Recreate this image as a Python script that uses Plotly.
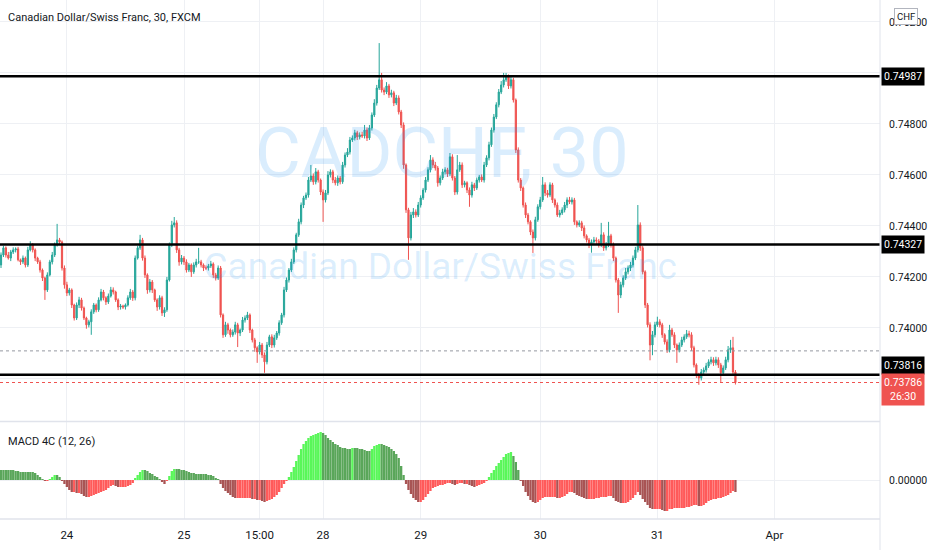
import plotly.graph_objects as go

# ---------------- data ----------------
first_open = 0.74247
closes = [
    0.74286, 0.74314, 0.74286, 0.74274, 0.74298, 0.74306, 0.74310, 0.74267, 0.74259, 0.74274,
    0.74247, 0.74306, 0.74325, 0.74306, 0.74274, 0.74259, 0.74227, 0.74196, 0.74149, 0.74208,
    0.74259, 0.74286, 0.74325, 0.74345, 0.74337, 0.74235, 0.74169, 0.74137, 0.74149, 0.74090,
    0.74039, 0.74090, 0.74110, 0.74078, 0.74039, 0.74012, 0.74024, 0.74063, 0.74090, 0.74071,
    0.74110, 0.74141, 0.74118, 0.74102, 0.74125, 0.74149, 0.74141, 0.74110, 0.74082, 0.74086,
    0.74082, 0.74090, 0.74118, 0.74141, 0.74118, 0.74274, 0.74314, 0.74345, 0.74274, 0.74208,
    0.74149, 0.74180, 0.74149, 0.74110, 0.74082, 0.74118, 0.74059, 0.74071, 0.74188, 0.74325,
    0.74404, 0.74412, 0.74306, 0.74259, 0.74274, 0.74259, 0.74227, 0.74247, 0.74220, 0.74247,
    0.74259, 0.74259, 0.74247, 0.74235, 0.74235, 0.74243, 0.74251, 0.74208, 0.74196, 0.74235,
    0.74051, 0.73973, 0.74012, 0.73992, 0.73973, 0.73984, 0.74012, 0.73980, 0.73992, 0.74031,
    0.74039, 0.74051, 0.73992, 0.73953, 0.73922, 0.73906, 0.73933, 0.73894, 0.73867, 0.73933,
    0.73965, 0.73933, 0.73961, 0.73980, 0.74020, 0.74051, 0.74149, 0.74188, 0.74227, 0.74259,
    0.74306, 0.74365, 0.74416, 0.74482, 0.74510, 0.74521, 0.74580, 0.74596, 0.74573, 0.74612,
    0.74580, 0.74533, 0.74502, 0.74529, 0.74600, 0.74612, 0.74580, 0.74569, 0.74588, 0.74573,
    0.74639, 0.74678, 0.74690, 0.74737, 0.74745, 0.74765, 0.74749, 0.74757, 0.74753, 0.74776,
    0.74745, 0.74784, 0.74835, 0.74882, 0.74941, 0.74973, 0.74933, 0.74925, 0.74949, 0.74914,
    0.74922, 0.74882, 0.74902, 0.74847, 0.74796, 0.74639, 0.74463, 0.74353, 0.74443, 0.74455,
    0.74443, 0.74482, 0.74510, 0.74541, 0.74580, 0.74620, 0.74659, 0.74639, 0.74627, 0.74569,
    0.74588, 0.74612, 0.74620, 0.74604, 0.74671, 0.74588, 0.74533, 0.74620, 0.74639, 0.74561,
    0.74569, 0.74541, 0.74521, 0.74561, 0.74549, 0.74580, 0.74592, 0.74580, 0.74639, 0.74667,
    0.74718, 0.74776, 0.74827, 0.74875, 0.74925, 0.74953, 0.74973, 0.74984, 0.74949, 0.74973,
    0.74894, 0.74698, 0.74580, 0.74549, 0.74482, 0.74443, 0.74416, 0.74376, 0.74353, 0.74424,
    0.74475, 0.74502, 0.74561, 0.74529, 0.74521, 0.74561, 0.74502, 0.74482, 0.74443, 0.74451,
    0.74463, 0.74482, 0.74502, 0.74494, 0.74502, 0.74416, 0.74404, 0.74412, 0.74392, 0.74361,
    0.74345, 0.74325, 0.74337, 0.74345, 0.74341, 0.74325, 0.74365, 0.74314, 0.74325, 0.74361,
    0.74325, 0.74274, 0.74188, 0.74129, 0.74169, 0.74196, 0.74220, 0.74235, 0.74247, 0.74274,
    0.74306, 0.74404, 0.74314, 0.74220, 0.74090, 0.74012, 0.73933, 0.73973, 0.74012, 0.74024,
    0.74012, 0.73973, 0.73945, 0.73914, 0.73992, 0.73973, 0.73933, 0.73914, 0.73933, 0.73953,
    0.73965, 0.73977, 0.73973, 0.73922, 0.73855, 0.73816, 0.73804, 0.73827, 0.73835, 0.73851,
    0.73867, 0.73875, 0.73863, 0.73875, 0.73855, 0.73824, 0.73843, 0.73875, 0.73914, 0.73922,
    0.73827, 0.73786,
]

# wick lengths beyond the candle body, in points (0.00001)
upper_wick_pts = [
    10, 8, 6, 12, 8, 10, 6, 8, 5, 10,
    6, 12, 15, 8, 6, 5, 8, 6, 5, 10,
    8, 12, 10, 63, 8, 6, 10, 12, 8, 6,
    5, 10, 12, 8, 6, 5, 8, 10, 8, 6,
    10, 12, 8, 6, 10, 12, 10, 5, 6, 8,
    5, 6, 10, 12, 8, 10, 8, 20, 8, 10,
    6, 12, 8, 5, 6, 10, 8, 10, 12, 10,
    16, 23, 10, 8, 12, 8, 10, 8, 6, 10,
    12, 55, 8, 6, 10, 8, 12, 6, 8, 10,
    8, 6, 12, 8, 6, 10, 12, 8, 6, 12,
    10, 12, 6, 5, 8, 6, 12, 8, 10, 12,
    8, 10, 12, 8, 10, 8, 12, 10, 8, 12,
    10, 8, 12, 10, 8, 10, 12, 43, 10, 15,
    8, 6, 10, 12, 15, 10, 8, 12, 10, 8,
    12, 10, 15, 12, 10, 12, 8, 10, 12, 20,
    10, 12, 10, 15, 12, 144, 27, 10, 15, 8,
    12, 8, 12, 10, 8, 10, 6, 8, 12, 15,
    10, 12, 10, 8, 12, 10, 19, 10, 12, 8,
    10, 12, 10, 8, 15, 10, 8, 58, 12, 10,
    8, 6, 10, 12, 8, 10, 8, 10, 12, 10,
    12, 10, 12, 10, 12, 15, 27, 16, 10, 12,
    8, 6, 10, 8, 6, 10, 8, 6, 10, 12,
    10, 12, 31, 10, 12, 10, 8, 6, 10, 12,
    10, 12, 10, 12, 10, 8, 6, 10, 8, 10,
    6, 8, 10, 12, 10, 8, 47, 10, 12, 55,
    8, 10, 6, 8, 12, 10, 15, 10, 12, 10,
    12, 78, 10, 8, 6, 8, 10, 15, 12, 20,
    10, 8, 6, 10, 20, 8, 10, 6, 10, 12,
    10, 15, 12, 10, 8, 6, 8, 12, 10, 12,
    10, 12, 10, 12, 10, 8, 10, 12, 15, 31,
    43, 8,
]
lower_wick_pts = [
    12, 8, 10, 6, 12, 8, 10, 6, 12, 8,
    10, 8, 6, 10, 12, 8, 10, 12, 39, 8,
    6, 10, 8, 6, 12, 10, 15, 12, 10, 12,
    10, 8, 12, 10, 8, 15, 10, 51, 8, 10,
    8, 6, 10, 12, 8, 6, 10, 8, 12, 10,
    8, 10, 6, 8, 12, 10, 6, 8, 10, 12,
    15, 10, 12, 8, 15, 10, 12, 16, 8, 6,
    8, 10, 12, 15, 10, 12, 10, 8, 20, 8,
    10, 8, 10, 12, 8, 10, 8, 12, 10, 8,
    10, 12, 8, 15, 10, 8, 10, 55, 12, 8,
    10, 8, 12, 10, 15, 43, 10, 12, 43, 10,
    8, 12, 10, 8, 10, 8, 10, 8, 10, 8,
    8, 10, 8, 10, 12, 8, 10, 8, 12, 10,
    10, 12, 86, 10, 8, 10, 12, 10, 12, 10,
    8, 10, 8, 10, 8, 10, 12, 10, 8, 10,
    12, 8, 10, 8, 10, 8, 10, 12, 8, 12,
    10, 12, 8, 10, 12, 15, 12, 86, 10, 12,
    10, 8, 10, 8, 10, 8, 10, 12, 10, 15,
    10, 8, 10, 12, 8, 10, 12, 10, 8, 12,
    10, 12, 46, 10, 12, 8, 10, 8, 10, 8,
    10, 8, 10, 8, 10, 8, 10, 8, 12, 10,
    10, 12, 10, 12, 10, 12, 10, 12, 59, 10,
    8, 10, 8, 12, 10, 8, 12, 10, 8, 10,
    8, 10, 12, 8, 10, 12, 10, 8, 12, 10,
    10, 12, 30, 10, 12, 10, 8, 12, 10, 8,
    10, 12, 10, 70, 12, 10, 8, 10, 12, 10,
    8, 10, 12, 10, 12, 10, 60, 40, 10, 8,
    10, 12, 10, 12, 10, 8, 12, 51, 10, 8,
    10, 8, 10, 12, 10, 12, 27, 10, 12, 10,
    8, 10, 12, 10, 12, 36, 10, 8, 10, 12,
    10, 8,
]

# MACD 4C (12, 26) histogram, in points (0.00001)
macd_pts = [
    20, 20, 20, 20, 20, 20, 18, 18, 16, 16,
    16, 16, 16, 16, 14, 10, 6, 2, -2, -2,
    2, 6, 10, 10, 6, -2, -8, -14, -20, -24,
    -24, -26, -26, -28, -32, -34, -34, -32, -30, -28,
    -26, -24, -22, -20, -16, -12, -10, -12, -14, -14,
    -14, -14, -12, -10, -6, 4, 10, 16, 20, 20,
    18, 14, 12, 8, 6, 2, -4, -8, -2, 8,
    18, 22, 22, 22, 20, 20, 18, 16, 14, 14,
    12, 12, 12, 12, 12, 10, 10, 8, 4, 2,
    -8, -16, -22, -26, -30, -34, -36, -36, -36, -36,
    -36, -36, -36, -38, -38, -40, -40, -42, -44, -42,
    -40, -38, -34, -30, -24, -16, -8, -2, 6, 16,
    26, 38, 50, 62, 72, 78, 84, 88, 90, 92,
    94, 96, 94, 90, 84, 80, 76, 72, 70, 66,
    64, 64, 62, 62, 64, 64, 64, 62, 62, 60,
    58, 58, 62, 68, 70, 72, 72, 70, 68, 66,
    62, 58, 52, 44, 28, 10, -8, -20, -28, -36,
    -40, -44, -44, -40, -34, -28, -22, -16, -14, -12,
    -10, -10, -8, -6, -6, -8, -10, -8, -6, -6,
    -8, -8, -10, -12, -14, -12, -10, -8, -6, -2,
    6, 14, 20, 28, 34, 40, 46, 52, 54, 56,
    48, 36, 20, -2, -12, -24, -32, -40, -44, -46,
    -44, -40, -36, -34, -34, -34, -34, -34, -36, -36,
    -34, -32, -28, -24, -24, -26, -30, -32, -34, -36,
    -38, -38, -38, -38, -36, -36, -34, -34, -34, -32,
    -32, -36, -42, -44, -46, -46, -46, -44, -40, -36,
    -30, -24, -30, -38, -44, -50, -56, -58, -58, -58,
    -58, -60, -62, -62, -58, -58, -56, -56, -56, -56,
    -56, -54, -54, -52, -50, -50, -52, -52, -50, -46,
    -42, -40, -38, -38, -36, -36, -34, -32, -30, -26,
    -22, -24,
]

tick_bars = [27, 75, 106, 132, 172, 221, 269, 317]
tick_labels = ["24", "25", "15:00", "28", "29", "30", "31", "Apr"]
price_ticks = [0.738, 0.740, 0.742, 0.744, 0.746, 0.748, 0.750, 0.752]
# labels TradingView hides behind the level boxes
hidden_price_labels = [0.738, 0.750]
levels = [0.74987, 0.74327, 0.73816]
prev_close_line = 0.73910
last_price = 0.73786
countdown = "26:30"
title_text = "Canadian Dollar/Swiss Franc, 30, FXCM"
symbol_text = "CADCHF, 30"
desc_text = "Canadian Dollar/Swiss Franc"
macd_title = "MACD 4C (12, 26)"

# ---------------- derived series ----------------
n = len(closes)
idx = list(range(n))
opens = [first_open] + closes[:-1]
highs = [max(o, c) + u * 1e-5 for o, c, u in zip(opens, closes, upper_wick_pts)]
lows = [min(o, c) - d * 1e-5 for o, c, d in zip(opens, closes, lower_wick_pts)]
macd = [v * 1e-5 for v in macd_pts]

LIME, GREEN, RED, MAROON = "#59F759", "#5AA65A", "#FF5A5A", "#A85454"
macd_colors = []
for i, v in enumerate(macd):
    prev = macd[i - 1] if i > 0 else v
    if v > 0:
        macd_colors.append(LIME if v > prev else GREEN)
    else:
        macd_colors.append(MAROON if v < prev else RED)

price_ticktext = ["" if any(abs(v - h) < 1e-9 for h in hidden_price_labels) else f"{v:.5f}"
                  for v in price_ticks]

FONT = "Roboto, Liberation Sans, Arial, sans-serif"
TXT = "#131722"
GRID = "#eef0f4"
UP, DOWN = "#26a69a", "#ef5350"

W, H = 932, 550
ML, MR, MT, MB = 0, 52, 0, 31
PW, PH = W - ML - MR, H - MT - MB
main_dom = [1 - 421 / PH, 1]
macd_dom = [0, 97 / PH]
x_range = [-0.41, 360.25]

fig = go.Figure()

# watermark (drawn first so it sits beneath the candles)
fig.add_trace(go.Scatter(x=[180.7], y=[0.74659], mode="text", text=[symbol_text],
                         textfont=dict(size=70, color="rgba(33,150,243,0.17)", family=FONT),
                         hoverinfo="skip", showlegend=False, xaxis="x", yaxis="y"))
fig.add_trace(go.Scatter(x=[180.0], y=[0.74227], mode="text", text=[desc_text],
                         textfont=dict(size=37, color="rgba(33,150,243,0.17)", family=FONT),
                         hoverinfo="skip", showlegend=False, xaxis="x", yaxis="y"))

fig.add_trace(go.Candlestick(
    x=idx, open=opens, high=highs, low=lows, close=closes,
    increasing=dict(line=dict(color=UP, width=1), fillcolor=UP),
    decreasing=dict(line=dict(color=DOWN, width=1), fillcolor=DOWN),
    whiskerwidth=0, hoverinfo="skip", showlegend=False, xaxis="x", yaxis="y"))

fig.add_trace(go.Bar(x=idx, y=macd, marker=dict(color=macd_colors, line=dict(width=0)),
                     hoverinfo="skip", showlegend=False, xaxis="x2", yaxis="y2"))

shapes = []
for lv in levels:
    shapes.append(dict(type="line", xref="paper", yref="y", x0=0, x1=1, y0=lv, y1=lv,
                       line=dict(color="#000000", width=2.5)))
shapes.append(dict(type="line", xref="paper", yref="y", x0=0, x1=1, y0=prev_close_line,
                   y1=prev_close_line, line=dict(color="#9598a1", width=1, dash="dot")))
shapes.append(dict(type="line", xref="paper", yref="y", x0=0, x1=1, y0=last_price,
                   y1=last_price, line=dict(color=DOWN, width=1, dash="dot")))
# pane separators and price-scale border
sep_y = 1 - 421.5 / PH
shapes.append(dict(type="line", xref="paper", yref="paper", x0=0, x1=1, y0=sep_y, y1=sep_y,
                   line=dict(color="#e0e3eb", width=1.5)))
shapes.append(dict(type="line", xref="paper", yref="paper", x0=0, x1=1, y0=0, y1=0,
                   line=dict(color="#e0e3eb", width=1.5)))
shapes.append(dict(type="line", xref="paper", yref="paper", x0=1, x1=1, y0=-MB / PH, y1=1,
                   line=dict(color="#e0e3eb", width=1)))

ann = []
ann.append(dict(text=title_text, xref="paper", yref="paper", x=6 / PW, y=1 - 18 / PH,
                xanchor="left", yanchor="middle", showarrow=False,
                font=dict(size=11, color=TXT, family=FONT)))
ann.append(dict(text=macd_title, xref="paper", yref="paper", x=6 / PW, y=1 - 441 / PH,
                xanchor="left", yanchor="middle", showarrow=False,
                font=dict(size=11, color=TXT, family=FONT)))
shifts = [0, 0, 9]
for lv, sh in zip(levels, shifts):
    ann.append(dict(text=f"{lv:.5f}", xref="paper", yref="y", x=1, y=lv, yshift=sh,
                    xanchor="left", yanchor="middle", showarrow=False, xshift=1,
                    bgcolor="#000000", borderpad=2,
                    font=dict(size=10.5, color="#ffffff", family=FONT)))
ann.append(dict(text=f"{last_price:.5f}<br>{countdown}", xref="paper", yref="y", x=1,
                y=last_price, yshift=-7, xanchor="left", yanchor="middle", showarrow=False,
                xshift=1, bgcolor=DOWN, borderpad=2,
                font=dict(size=10.5, color="#ffffff", family=FONT)))
ann.append(dict(text="CHF", xref="paper", yref="paper", x=906 / PW, y=1 - 17 / PH,
                xanchor="center", yanchor="middle", showarrow=False,
                bgcolor="#ffffff", bordercolor="#b2b5be", borderwidth=1, borderpad=2,
                font=dict(size=9.5, color=TXT, family=FONT)))

fig.update_layout(
    width=W, height=H, margin=dict(l=ML, r=MR, t=MT, b=MB, autoexpand=False),
    paper_bgcolor="#ffffff", plot_bgcolor="#ffffff",
    showlegend=False, hovermode=False, bargap=0.05,
    shapes=shapes, annotations=ann,
    font=dict(family=FONT, color=TXT),
    xaxis=dict(domain=[0, 1], range=x_range, anchor="y", tickvals=tick_bars,
               showticklabels=False, showgrid=True, gridcolor=GRID, zeroline=False,
               showline=False, ticks="", rangeslider=dict(visible=False), fixedrange=True,
               automargin=False),
    xaxis2=dict(domain=[0, 1], range=x_range, anchor="y2", tickvals=tick_bars,
                ticktext=tick_labels, showgrid=True, gridcolor=GRID, zeroline=False,
                showline=False, ticks="outside", ticklen=5, tickcolor="rgba(0,0,0,0)",
                tickfont=dict(size=11.5, color=TXT, family=FONT), fixedrange=True,
                automargin=False),
    yaxis=dict(domain=main_dom, range=[0.73635, 0.75286], side="right", anchor="x",
               tickvals=price_ticks, ticktext=price_ticktext,
               showgrid=True, gridcolor=GRID, zeroline=False, showline=False,
               ticks="outside", ticklen=6, tickcolor="rgba(0,0,0,0)",
               tickfont=dict(size=10.5, color=TXT, family=FONT), fixedrange=True,
               automargin=False),
    yaxis2=dict(domain=macd_dom, range=[-0.00078, 0.00116], side="right", anchor="x2",
                tickvals=[0], ticktext=["0.00000"], showgrid=False, zeroline=True,
                zerolinecolor=GRID, zerolinewidth=1, showline=False,
                ticks="outside", ticklen=6, tickcolor="rgba(0,0,0,0)",
                tickfont=dict(size=10.5, color=TXT, family=FONT), fixedrange=True,
                automargin=False),
)

fig.write_html("out.html", config={"displayModeBar": False},
               post_script="document.body.style.margin='0px';")
